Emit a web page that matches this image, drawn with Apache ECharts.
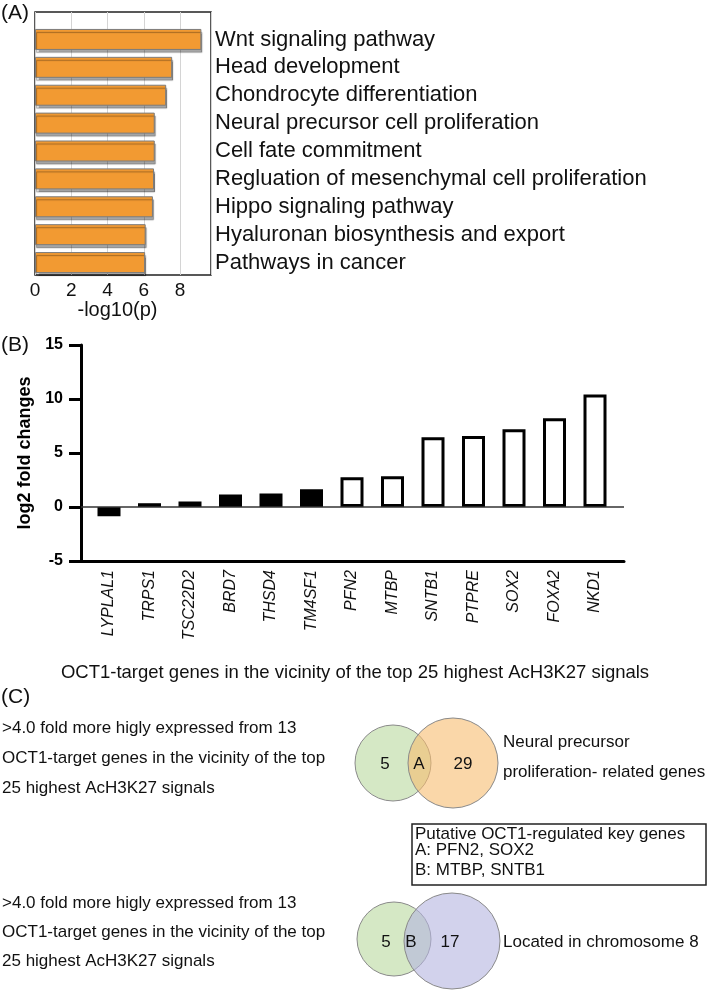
<!DOCTYPE html>
<html>
<head>
<meta charset="utf-8">
<script src="https://cdn.jsdelivr.net/npm/echarts@6/dist/echarts.min.js"></script>
<style>
html,body{margin:0;padding:0;background:#fff;}
#chart{width:708px;height:991px;}
</style>
</head>
<body>
<div id="chart"></div>
<script>
// ---- Panel A data ----
const aTerms = [
  'Wnt signaling pathway',
  'Head development',
  'Chondrocyte differentiation',
  'Neural precursor cell proliferation',
  'Cell fate commitment',
  'Regluation of mesenchymal cell proliferation',
  'Hippo signaling pathway',
  'Hyaluronan biosynthesis and export',
  'Pathways in cancer'
];
const aValues = [9.17, 7.56, 7.23, 6.6, 6.6, 6.56, 6.5, 6.1, 6.07];
const aTicks = [0, 2, 4, 6, 8];

// ---- Panel B data ----
const bGenes = ['LYPLAL1','TRPS1','TSC22D2','BRD7','THSD4','TM4SF1','PFN2','MTBP','SNTB1','PTPRE','SOX2','FOXA2','NKD1'];
const bValues = [-0.85, 0.35, 0.51, 1.16, 1.25, 1.65, 2.76, 2.85, 6.46, 6.58, 7.2, 8.22, 10.42];
const bAboveFourFold = [false,false,false,false,false,false,true,true,true,true,true,true,true];
const bTicks = [-5, 0, 5, 10, 15];
const bTitle = 'OCT1-target genes in the vicinity of the top 25 highest AcH3K27 signals';

// ---- Panel C data ----
const cLeftLines = ['>4.0 fold more higly expressed from 13', 'OCT1-target genes in the vicinity of the top', '25 highest AcH3K27 signals'];
const venn1Labels = ['5', 'A', '29'];
const venn1Name = ['Neural precursor', 'proliferation- related genes'];
const venn2Labels = ['5', 'B', '17'];
const venn2Name = ['Located in chromosome 8'];
const keyGenesLines = ['Putative OCT1-regulated key genes', 'A: PFN2, SOX2', 'B: MTBP, SNTB1'];

const SANS = '"Liberation Sans", Arial, sans-serif';

function txt(text, x, y, size, align, sx) {
  return {
    type: 'text', silent: true, x: x, y: y,
    scaleX: sx == null ? 1 : sx, scaleY: 1,
    style: {
      text: text, x: 0, y: 0,
      font: size + 'px ' + SANS,
      fill: '#111',
      align: align || 'left', verticalAlign: 'middle',
      textAlign: align || 'left', textVerticalAlign: 'middle'
    }
  };
}

const CF = 17; // panel C font size
const graphics = [];
graphics.push(txt('(A)', 1, 13, 21, 'left'));
graphics.push(txt('(B)', 1, 345, 21, 'left'));
graphics.push(txt('(C)', 1, 697, 21, 'left'));
graphics.push(txt(bTitle, 355, 673, 18.5, 'center'));

// left descriptive lines
[728, 758, 788].forEach((y, i) => graphics.push(txt(cLeftLines[i], 2, y, CF, 'left')));
[903, 932, 961].forEach((y, i) => graphics.push(txt(cLeftLines[i], 2, y, CF, 'left')));

// Venn 1
graphics.push({type:'circle', silent:true, shape:{cx:393, cy:763, r:38}, style:{fill:'#d5e8c5', stroke:'#8a8a8a', lineWidth:1}});
graphics.push({type:'circle', silent:true, shape:{cx:453, cy:763, r:45}, style:{fill:'rgba(246,188,112,0.6)', stroke:'#8a8a8a', lineWidth:1}});
graphics.push(txt(venn1Labels[0], 385, 764, CF, 'center'));
graphics.push(txt(venn1Labels[1], 419, 764, CF, 'center'));
graphics.push(txt(venn1Labels[2], 463, 764, CF, 'center'));
graphics.push(txt(venn1Name[0], 503, 742, CF, 'left'));
graphics.push(txt(venn1Name[1], 503, 772, CF, 'left'));

// key genes box
graphics.push({type:'rect', silent:true, shape:{x:412, y:824, width:294, height:61}, style:{fill:'#fff', stroke:'#222', lineWidth:1.5}});
graphics.push(txt(keyGenesLines[0], 415, 834, CF, 'left'));
graphics.push(txt(keyGenesLines[1], 415, 850, CF, 'left'));
graphics.push(txt(keyGenesLines[2], 415, 870, CF, 'left'));

// Venn 2
graphics.push({type:'circle', silent:true, shape:{cx:394, cy:939, r:37}, style:{fill:'#d5e8c5', stroke:'#8a8a8a', lineWidth:1}});
graphics.push({type:'circle', silent:true, shape:{cx:452, cy:941, r:48}, style:{fill:'rgba(180,180,223,0.6)', stroke:'#8a8a8a', lineWidth:1}});
graphics.push(txt(venn2Labels[0], 386, 942, CF, 'center'));
graphics.push(txt(venn2Labels[1], 411, 942, CF, 'center'));
graphics.push(txt(venn2Labels[2], 450, 942, CF, 'center'));
graphics.push(txt(venn2Name[0], 503, 942, CF, 'left'));

const chart = echarts.init(document.getElementById('chart'), null, {renderer: 'canvas'});
const option = {
  animation: false,
  backgroundColor: '#fff',
  textStyle: {fontFamily: SANS},
  grid: [
    {left: 35, top: 12, width: 176, height: 263, show: true, borderColor: '#222', borderWidth: 1.5, backgroundColor: 'transparent'},
    {left: 35, top: 25.5, width: 176, height: 251},
    {left: 81, top: 345, width: 543, height: 216},
    {left: 88.75, top: 345, width: 526.5, height: 216}
  ],
  xAxis: [
    {gridIndex: 0, type: 'value', min: aTicks[0], max: 9.7, interval: 2,
     axisLine: {show: false}, axisTick: {show: false},
     splitLine: {show: true, lineStyle: {color: '#d4d4d4', width: 1}},
     axisLabel: {fontSize: 19, color: '#111', margin: 6, showMaxLabel: false, fontFamily: SANS},
     name: '-log10(p)', nameLocation: 'middle', nameGap: 22,
     nameTextStyle: {fontSize: 20, color: '#111', fontFamily: SANS, padding: [0, 11, 0, 0]}},
    {gridIndex: 1, type: 'value', min: 0, max: 9.7, show: false},
    {gridIndex: 2, type: 'value', min: 0, max: 1, position: 'bottom',
     axisLine: {show: true, onZero: false, lineStyle: {color: '#000', width: 3}},
     axisTick: {show: false}, axisLabel: {show: false}, splitLine: {show: false}},
    {gridIndex: 3, type: 'category', data: bGenes, position: 'bottom',
     axisLine: {show: false, onZero: false}, axisTick: {show: false}, splitLine: {show: false},
     axisLabel: {interval: 0, rotate: 90, fontStyle: 'italic', fontSize: 16, color: '#111', margin: 9, fontFamily: SANS}}
  ],
  yAxis: [
    {gridIndex: 0, type: 'value', show: false},
    {gridIndex: 1, type: 'category', data: aTerms, inverse: true, position: 'right',
     axisLine: {show: false}, axisTick: {show: false},
     axisLabel: {interval: 0, fontSize: 22, color: '#111', margin: 4, fontFamily: SANS}},
    {gridIndex: 2, type: 'value', min: bTicks[0], max: bTicks[bTicks.length - 1], interval: 5,
     axisLine: {show: true, lineStyle: {color: '#000', width: 3}},
     axisTick: {show: true, length: 12, lineStyle: {color: '#000', width: 3}},
     splitLine: {show: false},
     axisLabel: {fontSize: 16, fontWeight: 'bold', color: '#000', margin: 18, fontFamily: SANS},
     name: 'log2 fold changes', nameLocation: 'middle', nameGap: 47,
     nameTextStyle: {fontSize: 18, fontWeight: 'bold', color: '#000', fontFamily: SANS}},
    {gridIndex: 3, type: 'value', min: bTicks[0], max: bTicks[bTicks.length - 1], show: false}
  ],
  series: [
    {type: 'bar', xAxisIndex: 1, yAxisIndex: 1, data: aValues, barWidth: 21,
     itemStyle: {color: '#F29A32', borderColor: '#7c7c7c', borderWidth: 1,
                 shadowColor: 'rgba(0,0,0,0.35)', shadowOffsetX: 1, shadowOffsetY: 3, shadowBlur: 1}},
    {type: 'line', xAxisIndex: 2, yAxisIndex: 2, data: [[0.5, 0]], symbol: 'none', silent: true,
     lineStyle: {width: 0},
     markLine: {silent: true, symbol: 'none', label: {show: false},
                lineStyle: {color: '#333', width: 1.5, type: 'solid'}, data: [{yAxis: 0}]}},
    {type: 'bar', xAxisIndex: 3, yAxisIndex: 3, barWidth: 23,
     data: bValues.map((v, i) => ({value: v, itemStyle: {color: bAboveFourFold[i] ? '#fff' : '#000'}})),
     itemStyle: {borderColor: '#000', borderWidth: 3}}
  ],
  graphic: graphics
};
chart.setOption(option);
</script>
</body>
</html>
